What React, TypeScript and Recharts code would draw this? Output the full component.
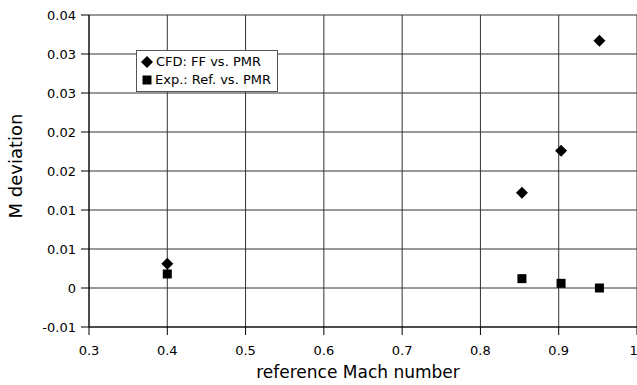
import { ScatterChart, Scatter, XAxis, YAxis, CartesianGrid } from 'recharts';

// reference Mach number for each measured/computed point
const machRef = [0.4, 0.853, 0.903, 0.952];
// CFD: FF vs. PMR
const cfdDev = [0.0031, 0.0122, 0.0176, 0.0317];
// Exp.: Ref. vs. PMR
const expDev = [0.0018, 0.0012, 0.0006, 0.0];

const xTicks = [0.3, 0.4, 0.5, 0.6, 0.7, 0.8, 0.9, 1.0];
const xTickLabels = ['0.3', '0.4', '0.5', '0.6', '0.7', '0.8', '0.9', '1'];
const yTicks = [-0.005, 0, 0.005, 0.01, 0.015, 0.02, 0.025, 0.03, 0.035];
const yTickLabels = ['-0.01', '0', '0.01', '0.01', '0.02', '0.02', '0.03', '0.03', '0.04'];

const cfdData = machRef.map((x, i) => ({ x, y: cfdDev[i] }));
const expData = machRef.map((x, i) => ({ x, y: expDev[i] }));

const FONT = 'DejaVu Sans';

const Diamond = (props: any) => {
  const { cx, cy } = props;
  const r = 6;
  return <polygon points={`${cx},${cy - r} ${cx + r},${cy} ${cx},${cy + r} ${cx - r},${cy}`} fill="#000" />;
};

const Square = (props: any) => {
  const { cx, cy } = props;
  const h = 4.5;
  return <rect x={cx - h} y={cy - h} width={h * 2} height={h * 2} fill="#000" />;
};

const LegendBox = () => (
  <div
    style={{
      position: 'absolute',
      left: 136,
      top: 50,
      border: '1px solid #555',
      background: '#fff',
      fontFamily: FONT,
      fontSize: 13,
      color: '#000',
      padding: '2px 6px 2px 4px',
      lineHeight: '18px',
      boxSizing: 'border-box',
      width: 142,
      height: 42,
    }}
  >
    <div style={{ display: 'flex', alignItems: 'center', whiteSpace: 'nowrap' }}>
      <svg width={12} height={12} style={{ marginRight: 3 }}>
        <polygon points="6,0 12,6 6,12 0,6" fill="#000" />
      </svg>
      CFD: FF vs. PMR
    </div>
    <div style={{ display: 'flex', alignItems: 'center', whiteSpace: 'nowrap' }}>
      <svg width={12} height={12} style={{ marginRight: 3 }}>
        <rect x={1.5} y={1.5} width={9} height={9} fill="#000" />
      </svg>
      Exp.: Ref. vs. PMR
    </div>
  </div>
);

const YTitle = (props: any) => {
  const { viewBox } = props;
  const cy = viewBox.y + viewBox.height / 2 - 5;
  return (
    <text x={22} y={cy} transform={`rotate(-90, 22, ${cy})`} textAnchor="middle" fontFamily={FONT} fontSize={18} fill="#000">
      M deviation
    </text>
  );
};

const XTitle = (props: any) => {
  const { viewBox } = props;
  const cx = viewBox.x + viewBox.width / 2;
  return (
    <text x={cx - 5} y={378} textAnchor="middle" fontFamily={FONT} fontSize={17} fill="#000">
      reference Mach number
    </text>
  );
};

export default function App() {
  return (
    <div style={{ position: 'absolute', left: 0, top: 0, width: 637, height: 385, background: '#fff' }}>
      <ScatterChart width={637} height={385} margin={{ top: 15, right: 0, bottom: 0, left: 0 }}>
        <CartesianGrid stroke="#333" />
        <XAxis
          type="number"
          dataKey="x"
          domain={[0.3, 1]}
          ticks={xTicks}
          tickFormatter={(v: number) => xTickLabels[xTicks.indexOf(v)] ?? String(v)}
          height={58}
          tickSize={8}
          tickMargin={11}
          stroke="#000"
          tick={{ fill: '#000', fontFamily: FONT, fontSize: 13 }}
          label={<XTitle />}
          allowDataOverflow
        />
        <YAxis
          type="number"
          dataKey="y"
          domain={[-0.005, 0.035]}
          ticks={yTicks}
          tickFormatter={(v: number) => yTickLabels[yTicks.indexOf(v)] ?? String(v)}
          width={89}
          tickSize={8}
          tickMargin={5}
          stroke="#000"
          tick={{ fill: '#000', fontFamily: FONT, fontSize: 13 }}
          label={<YTitle />}
          allowDataOverflow
        />
        <Scatter name="CFD: FF vs. PMR" data={cfdData} shape={<Diamond />} isAnimationActive={false} />
        <Scatter name="Exp.: Ref. vs. PMR" data={expData} shape={<Square />} isAnimationActive={false} />
      </ScatterChart>
      <LegendBox />
    </div>
  );
}
